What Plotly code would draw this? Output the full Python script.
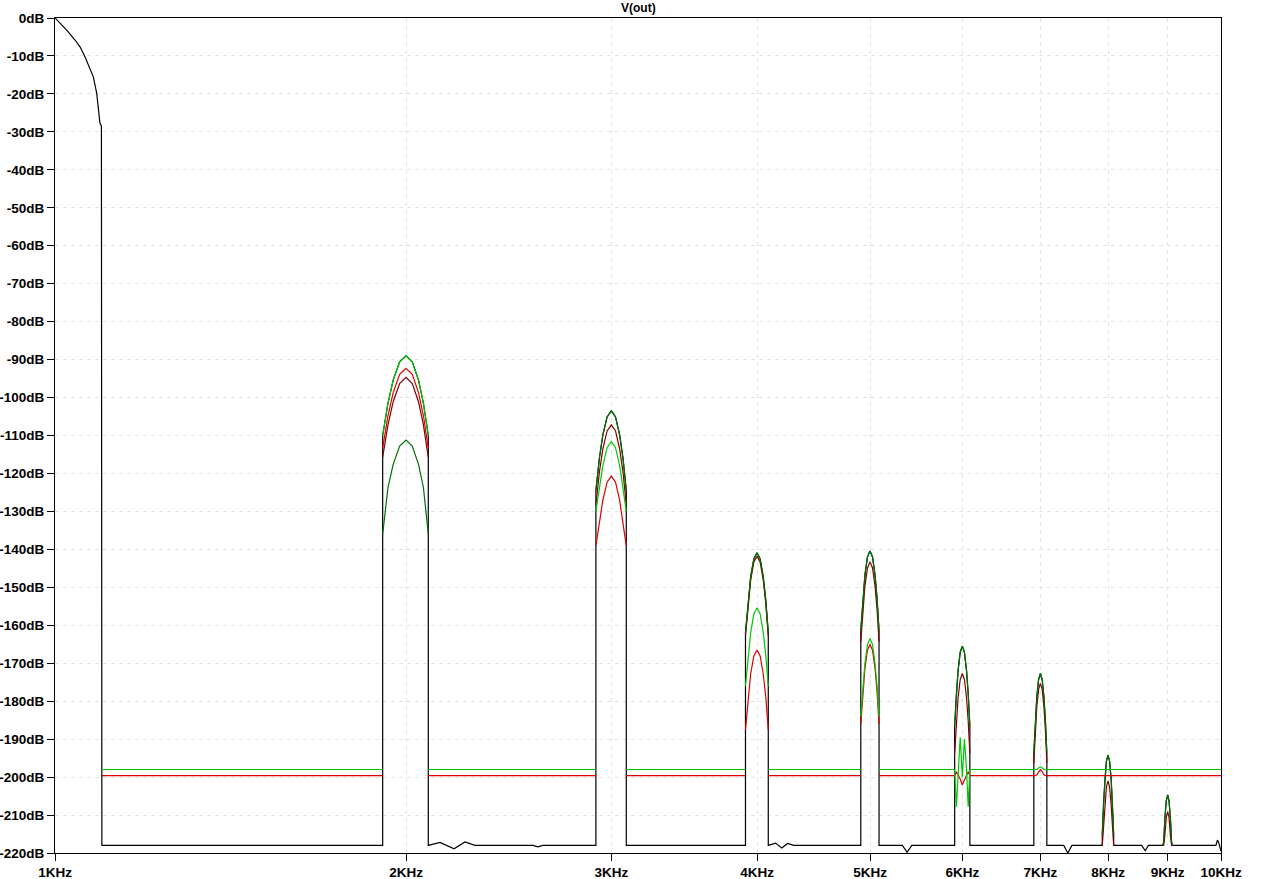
import plotly.graph_objects as go

# ---------------- data ----------------
HARMONICS_KHZ = [2, 3, 4, 5, 6, 7, 8, 9]
LOBE_OFFSETS_HZ = [-90, -70, -50, -25, 0, 25, 50, 70, 90]

# fundamental roll-off (kHz, dB)
FUND_KHZ = [1.000, 1.0234, 1.0403, 1.0506, 1.0610, 1.0715, 1.0786, 1.0858, 1.0892, 1.0928, 1.0960, 1.0970]
FUND_DB = [0.0, -3.2, -5.8, -7.6, -10.2, -13.3, -15.5, -19.8, -24.2, -27.7, -28.5, -218.0]

# black noise floor between lobes (kHz, dB)
BLACK_FLOOR_KHZ = [1.097, 1.91, 2.09, 2.139, 2.199, 2.247, 2.292, 2.57, 2.595, 2.62, 2.91,
                   3.09, 3.91, 4.09, 4.15, 4.20, 4.25, 4.30, 4.91, 5.09, 5.33, 5.38, 5.43, 5.91,
                   6.09, 6.91, 7.09, 7.33, 7.39, 7.45, 7.91, 8.09, 8.55, 8.61, 8.665, 8.91,
                   9.09, 9.90, 9.93, 9.96, 10.0]
BLACK_FLOOR_DB = [-218, -218, -218, -217.2, -218.9, -217.1, -218, -218, -218.4, -218, -218,
                  -218, -218, -218, -217.4, -218.7, -217.5, -218, -218, -218, -218, -219.8, -218, -218,
                  -218, -218, -218, -218, -220, -218, -218, -218, -218, -219.4, -218, -218,
                  -218, -218, -216.6, -217.5, -219.5]

GREEN_FLOOR_DB = -198.0
GREEN_LOBES = {
    2: [-110.0, -101.5, -95.4, -90.6, -89.0, -90.6, -95.4, -101.5, -110.0],
    3: [-130.0, -124.0, -118.0, -113.2, -111.6, -113.2, -118.0, -124.0, -130.0],
    4: [-176.0, -168.0, -162.0, -157.0, -155.4, -157.0, -162.0, -168.0, -176.0],
    5: [-184.0, -176.0, -170.0, -165.1, -163.5, -165.1, -170.0, -176.0, -184.0],
    6: [-198.0, -207.8, -198.0, -189.5, -200.0, -190.0, -198.0, -207.8, -198.0],
    7: [-198.0, -198.0, -198.0, -197.6, -197.3, -197.6, -198.0, -198.0, -198.0],
}
GREEN_DETACHED = [2, 3, 4, 5]

RED_FLOOR_DB = -199.6
RED_LOBES = {
    2: [-113.3, -104.8, -98.7, -93.9, -92.3, -93.9, -98.7, -104.8, -113.3],
    3: [-139.0, -133.2, -127.1, -122.3, -120.7, -122.3, -127.1, -133.2, -139.0],
    4: [-187.5, -179.0, -172.9, -168.1, -166.5, -168.1, -172.9, -179.0, -187.5],
    5: [-186.0, -177.5, -171.4, -166.6, -165.0, -166.6, -171.4, -177.5, -186.0],
    6: [-199.6, -198.6, -199.5, -200.5, -202.1, -200.5, -199.5, -198.6, -199.6],
    7: [-199.6, -199.6, -199.4, -198.6, -198.0, -198.6, -199.4, -199.6, -199.6],
}
RED_DETACHED = [2, 3, 4, 5]

DARKGREEN_LOBES = {
    2: [-136.0, -123.7, -117.6, -112.8, -111.2, -112.8, -117.6, -123.7, -136.0],
    3: [-124.5, -116.0, -109.9, -105.1, -103.5, -105.1, -109.9, -116.0, -124.5],
    4: [-162.0, -153.4, -147.3, -142.5, -140.9, -142.5, -147.3, -153.4, -162.0],
    5: [-161.4, -152.9, -146.8, -142.0, -140.4, -142.0, -146.8, -152.9, -161.4],
    6: [-186.5, -178.0, -171.9, -167.1, -165.5, -167.1, -171.9, -178.0, -186.5],
    7: [-193.7, -185.2, -179.1, -174.3, -172.7, -174.3, -179.1, -185.2, -193.7],
    8: [-215.2, -206.7, -200.6, -195.8, -194.2, -195.8, -200.6, -206.7, -215.2],
    9: [-218.0, -217.2, -211.1, -206.3, -204.7, -206.3, -211.1, -217.2, -218.0],
}

DARKRED_LOBES = {
    2: [-115.7, -107.2, -101.1, -96.3, -94.7, -96.3, -101.1, -107.2, -115.7],
    3: [-128.2, -119.7, -113.6, -108.8, -107.2, -108.8, -113.6, -119.7, -128.2],
    4: [-162.8, -154.3, -148.2, -143.4, -141.8, -143.4, -148.2, -154.3, -162.8],
    5: [-164.3, -155.8, -149.7, -144.9, -143.3, -144.9, -149.7, -155.8, -164.3],
    6: [-193.7, -185.2, -179.1, -174.3, -172.7, -174.3, -179.1, -185.2, -193.7],
    7: [-196.3, -187.8, -181.7, -176.9, -175.3, -176.9, -181.7, -187.8, -196.3],
    8: [-218.0, -213.5, -207.4, -202.6, -201.0, -202.6, -207.4, -213.5, -218.0],
    9: [-218.0, -218.0, -215.5, -210.7, -209.1, -210.7, -215.5, -218.0, -218.0],
}

X_TICK_KHZ = [1, 2, 3, 4, 5, 6, 7, 8, 9, 10]
X_TICK_TEXT = ["1KHz", "2KHz", "3KHz", "4KHz", "5KHz", "6KHz", "7KHz", "8KHz", "9KHz", "10KHz"]
Y_TICK_DB = [0, -10, -20, -30, -40, -50, -60, -70, -80, -90, -100, -110, -120, -130,
             -140, -150, -160, -170, -180, -190, -200, -210, -220]
Y_TICK_TEXT = [f"{v}dB" for v in Y_TICK_DB]

TITLE = "V(out)"
COLORS = {"black": "#000000", "darkred": "#800000", "darkgreen": "#006f00",
          "red": "#dc0000", "green": "#00c800"}


# ---------------- build traces ----------------
def lobe_x(h):
    return [h + o / 1000.0 for o in LOBE_OFFSETS_HZ]


def floored(floor_db, lobes, detached):
    xs, ys = [1.097], [floor_db]
    for h in HARMONICS_KHZ:
        if h not in lobes:
            continue
        lx = lobe_x(h)
        if h in detached:
            xs += [lx[0], None]
            ys += [floor_db, None]
            xs += lx + [None, lx[-1]]
            ys += lobes[h] + [None, floor_db]
        else:
            xs += lx
            ys += lobes[h]
    xs.append(10.0)
    ys.append(floor_db)
    return xs, ys


def arcs_only(lobes):
    xs, ys = [], []
    for h in HARMONICS_KHZ:
        if h in lobes:
            xs += lobe_x(h) + [None]
            ys += lobes[h] + [None]
    return xs, ys


# black trace: fundamental + floor + walls + envelope of all lobes
all_lobes = [GREEN_LOBES, RED_LOBES, DARKGREEN_LOBES, DARKRED_LOBES]
pts = []
for x, y in zip(BLACK_FLOOR_KHZ, BLACK_FLOOR_DB):
    pts.append((x, 1, y))
for h in HARMONICS_KHZ:
    env = [max(d[h][i] for d in all_lobes if h in d) for i in range(len(LOBE_OFFSETS_HZ))]
    for o, x, y in zip(LOBE_OFFSETS_HZ, lobe_x(h), env):
        pts.append((x, 2 if o < 0 else 0, y))
pts.sort(key=lambda p: (p[0], p[1]))
bx = FUND_KHZ + [p[0] for p in pts]
by = FUND_DB + [p[2] for p in pts]

LW = 1.2
fig = go.Figure()
fig.add_trace(go.Scatter(x=bx, y=by, mode="lines", line=dict(color=COLORS["black"], width=LW)))
dx, dy = arcs_only(DARKRED_LOBES)
fig.add_trace(go.Scatter(x=dx, y=dy, mode="lines", line=dict(color=COLORS["darkred"], width=LW)))
gx, gy = arcs_only(DARKGREEN_LOBES)
fig.add_trace(go.Scatter(x=gx, y=gy, mode="lines", line=dict(color=COLORS["darkgreen"], width=LW)))
rx, ry = floored(RED_FLOOR_DB, RED_LOBES, RED_DETACHED)
fig.add_trace(go.Scatter(x=rx, y=ry, mode="lines", line=dict(color=COLORS["red"], width=LW)))
grx, gry = floored(GREEN_FLOOR_DB, GREEN_LOBES, GREEN_DETACHED)
fig.add_trace(go.Scatter(x=grx, y=gry, mode="lines", line=dict(color=COLORS["green"], width=LW)))

tickfont = dict(family="Liberation Sans, Arial, sans-serif", size=13.5, color="#000000", weight="bold")
axis_common = dict(showgrid=True, gridcolor="#e4e4e4", griddash="4px,4px", gridwidth=1,
                   showline=True, linecolor="#000000", linewidth=1, mirror=True,
                   ticks="outside", ticklen=7, tickcolor="#000000", tickwidth=1,
                   tickfont=tickfont, zeroline=False, fixedrange=True, automargin=False)

fig.update_layout(
    width=1276, height=879,
    margin=dict(l=55, r=55, t=18, b=26, autoexpand=False),
    paper_bgcolor="#ffffff", plot_bgcolor="#ffffff",
    showlegend=False, hovermode=False,
    xaxis=dict(type="log", range=[0, 1], tickmode="array", tickvals=X_TICK_KHZ,
               ticktext=X_TICK_TEXT, **axis_common),
    yaxis=dict(range=[-220, 0], tickmode="array", tickvals=Y_TICK_DB,
               ticktext=Y_TICK_TEXT, **axis_common),
    annotations=[dict(text=TITLE, xref="paper", yref="paper", x=0.5, y=1.0,
                      xanchor="center", yanchor="bottom", yshift=1, showarrow=False,
                      font=dict(family="Liberation Sans, Arial, sans-serif", size=12,
                                color="#000000", weight="bold"))],
)

fig.write_html("out.html", post_script="document.body.style.margin='0';",
               config={"displayModeBar": False})
